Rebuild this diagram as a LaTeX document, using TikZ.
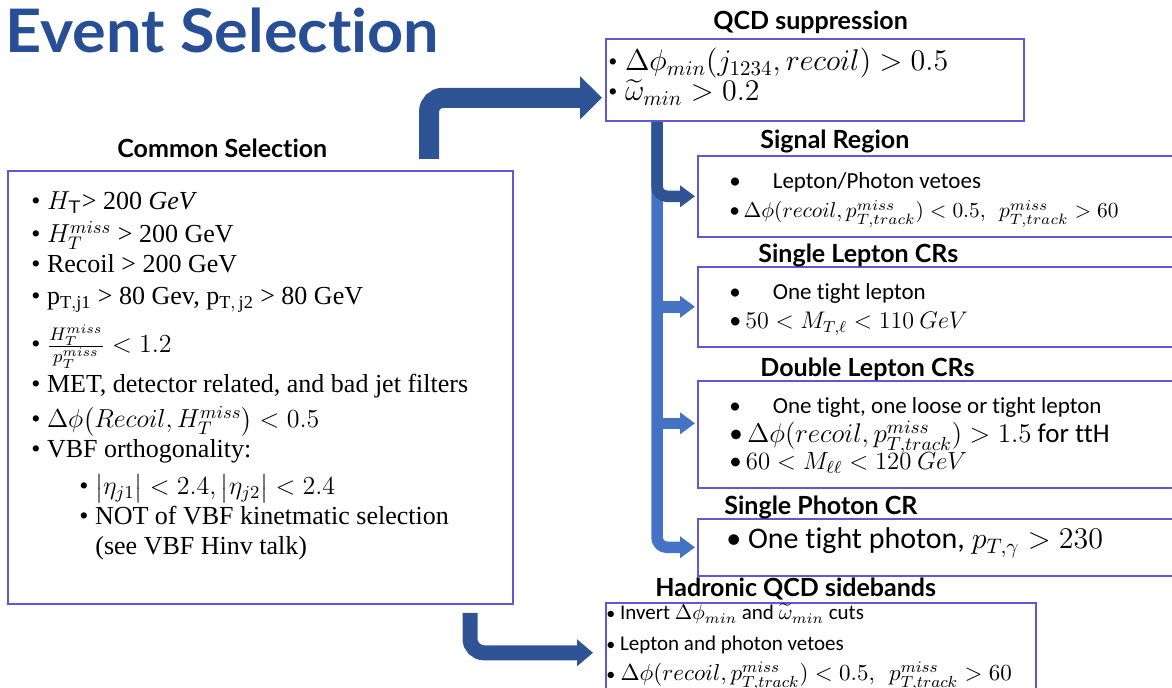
\RequirePackage{fix-cm}
\documentclass[tikz,border=0pt]{standalone}
\usepackage{amsmath}
\usepackage{fontspec}
\setmainfont{Liberation Serif}
\newfontfamily\latofont{Lato}[Ligatures=NoCommon]
\newfontfamily\titlefont{Lato}[Ligatures=NoCommon,FakeStretch=1.05]
\newfontfamily\califont{Carlito}[Ligatures=NoCommon]
\usetikzlibrary{arrows.meta,positioning}

\definecolor{titleblue}{RGB}{40,79,150}
\definecolor{boxline}{RGB}{96,86,214}
\definecolor{arrdark}{RGB}{47,84,150}
\definecolor{arrlight}{RGB}{68,114,196}

\begin{document}
\begin{tikzpicture}[x=0.5pt,y=-0.5pt,
	selbox/.style={draw=boxline,line width=0.8pt,anchor=north west,inner sep=0pt},
	head/.style={font=\latofont\bfseries\fontsize{12.5}{15}\selectfont,anchor=base west,inner sep=0pt},
	serif/.style={font=\fontsize{13}{15}\selectfont,anchor=base west,inner sep=0pt},
	sans/.style={font=\califont\fontsize{11.5}{14}\selectfont,anchor=base west,inner sep=0pt},
	bigarrow/.style={draw=arrdark,line width=10pt,rounded corners=7pt,-{Triangle[length=11pt,width=21pt]}},
	lowarrow/.style={draw=arrdark,line width=7.5pt,rounded corners=7pt,-{Triangle[length=8pt,width=13pt]}},
	trunk/.style={draw=arrlight,line width=5.75pt,rounded corners=5pt,shorten >=1pt,-{Triangle[length=7.5pt,width=10.5pt]}},
	topbranch/.style={trunk,draw=arrdark}]
	\useasboundingbox (0,0) rectangle (1172,688);
	\clip (0,0) rectangle (1172,688);

	\node[font=\titlefont\bfseries\fontsize{30}{36}\selectfont,text=titleblue,anchor=base west,inner sep=0pt] (title) at (5,53) {Event Selection};

	% boxes
	\node[selbox,minimum width=252.5pt,minimum height=216.5pt] (cs) at (7,170) {};
	\node[selbox,minimum width=209pt,minimum height=41pt] (qcd) at (605,38) {};
	\node[selbox,minimum width=250pt,minimum height=40.5pt] (sr) at (697,155) {};
	\node[selbox,minimum width=250pt,minimum height=40pt] (sl) at (697,266) {};
	\node[selbox,minimum width=250pt,minimum height=53.5pt] (dl) at (697,380) {};
	\node[selbox,minimum width=250pt,minimum height=28.5pt] (sp) at (697,518) {};
	\node[selbox,minimum width=215pt,minimum height=50pt] (hq) at (605,602) {};

	% headings
	\node[head] (cshead) at (117,158) {Common Selection};
	\node[head] (qcdhead) at (713,30) {QCD suppression};
	\node[head] (srhead) at (760,149) {Signal Region};
	\node[head] (slhead) at (758,263) {Single Lepton CRs};
	\node[head] (dlhead) at (760,377) {Double Lepton CRs};
	\node[head] (sphead) at (724,515) {Single Photon CR};
	\node[head] (hqhead) at (655,597) {Hadronic QCD sidebands};

	% common selection
	\foreach \y/\t in {210/{$H_{\textsf{T}}$> 200 \textit{GeV}},
		243/{$H_T^{miss}$ > 200 GeV},
		273/{Recoil > 200 GeV},
		305/{p$_{\mathrm{T,j1}}$ > 80 Gev, p$_{\mathrm{T,\,j2}}$ > 80 GeV},
		353/{$\frac{H_T^{miss}}{p_T^{miss}} < 1.2$},
		393/{MET, detector related, and bad jet filters},
		428/{$\Delta\phi\bigl(Recoil, H_T^{miss}\bigr) < 0.5$},
		458/{VBF orthogonality:}}
		\node[serif] (c\y) at (31,\y) {\textbullet\ \t};
	\node[serif] (c495) at (79,495) {\textbullet\ $\bigl|\eta_{j1}\bigr| < 2.4, \bigl|\eta_{j2}\bigr| < 2.4$};
	\node[serif] (c525) at (79,525) {\textbullet\ NOT of VBF kinetmatic selection};
	\node[serif] (c555) at (95,555) {(see VBF Hinv talk)};

	% qcd suppression
	\node[serif,font=\fontsize{15}{18}\selectfont] (q1) at (608,71) {{\fontsize{13}{15}\selectfont\textbullet}\ $\Delta\phi_{min}(j_{1234},recoil)>0.5$};
	\node[serif,font=\fontsize{15}{18}\selectfont] (q2) at (608,101) {{\fontsize{13}{15}\selectfont\textbullet}\ $\widetilde{\omega}_{min}>0.2$};

	% regions
	\node[sans] (sr1) at (729,189) {\textbullet\hspace{16pt}Lepton/Photon vetoes};
	\node[sans,font=\califont\fontsize{10.7}{14}\selectfont] (sr2) at (729,218) {\textbullet$\,\Delta\phi(recoil,p^{miss}_{T,track})<0.5,\ \ p^{miss}_{T,track}>60$};
	\node[sans] (sl1) at (729,300) {\textbullet\hspace{16pt}One tight lepton};
	\node[sans,font=\califont\fontsize{12}{15}\selectfont] (sl2) at (729,329) {\textbullet$\,50<M_{T,\ell}<110\ GeV$};
	\node[sans] (dl1) at (729,414) {\textbullet\hspace{16pt}One tight, one loose or tight lepton};
	\node[sans,font=\califont\fontsize{13.5}{16}\selectfont] (dl2) at (729,443) {\textbullet$\,\Delta\phi(recoil,p^{miss}_{T,track})>1.5$ for ttH};
	\node[sans,font=\califont\fontsize{12.4}{16}\selectfont] (dl3) at (729,470) {\textbullet$\,60<M_{\ell\ell}<120\ GeV$};
	\node[sans,font=\califont\fontsize{15}{18}\selectfont] (sp1) at (726,549) {\textbullet\ One tight photon, $p_{T,\gamma}>230$};
	\node[sans,font=\califont\fontsize{10.5}{13}\selectfont] (hq1) at (606,620) {{\small\textbullet}\ Invert $\Delta\phi_{min}$ and $\widetilde{\omega}_{min}$ cuts};
	\node[sans,font=\califont\fontsize{10.5}{13}\selectfont] (hq2) at (606,651) {{\small\textbullet}\ Lepton and photon vetoes};
	\node[sans,font=\califont\fontsize{11.5}{14}\selectfont] (hq3) at (606,681) {{\small\textbullet}\ $\Delta\phi(recoil,p^{miss}_{T,track})<0.5,\ \ p^{miss}_{T,track}>60$};

	% arrows
	\coordinate (csup) at (429,159);
	\draw[bigarrow,shorten >=1.5pt] (csup) |- ([yshift=-9pt]qcd.west);
	\coordinate (csdown) at (470,613);
	\draw[lowarrow,shorten >=6pt] (csdown) |- (hq.west);
	\coordinate (qcdfoot) at (657,122);
	\draw[trunk] (qcdfoot) |- (sp.west);
	\draw[trunk] (qcdfoot |- sl.west) -- (sl.west);
	\coordinate (dlin) at ([yshift=5.5pt]dl.west);
	\draw[trunk] (qcdfoot |- dlin) -- (dlin);
	\draw[topbranch] (qcdfoot) |- (sr.west);
\end{tikzpicture}
\end{document}
